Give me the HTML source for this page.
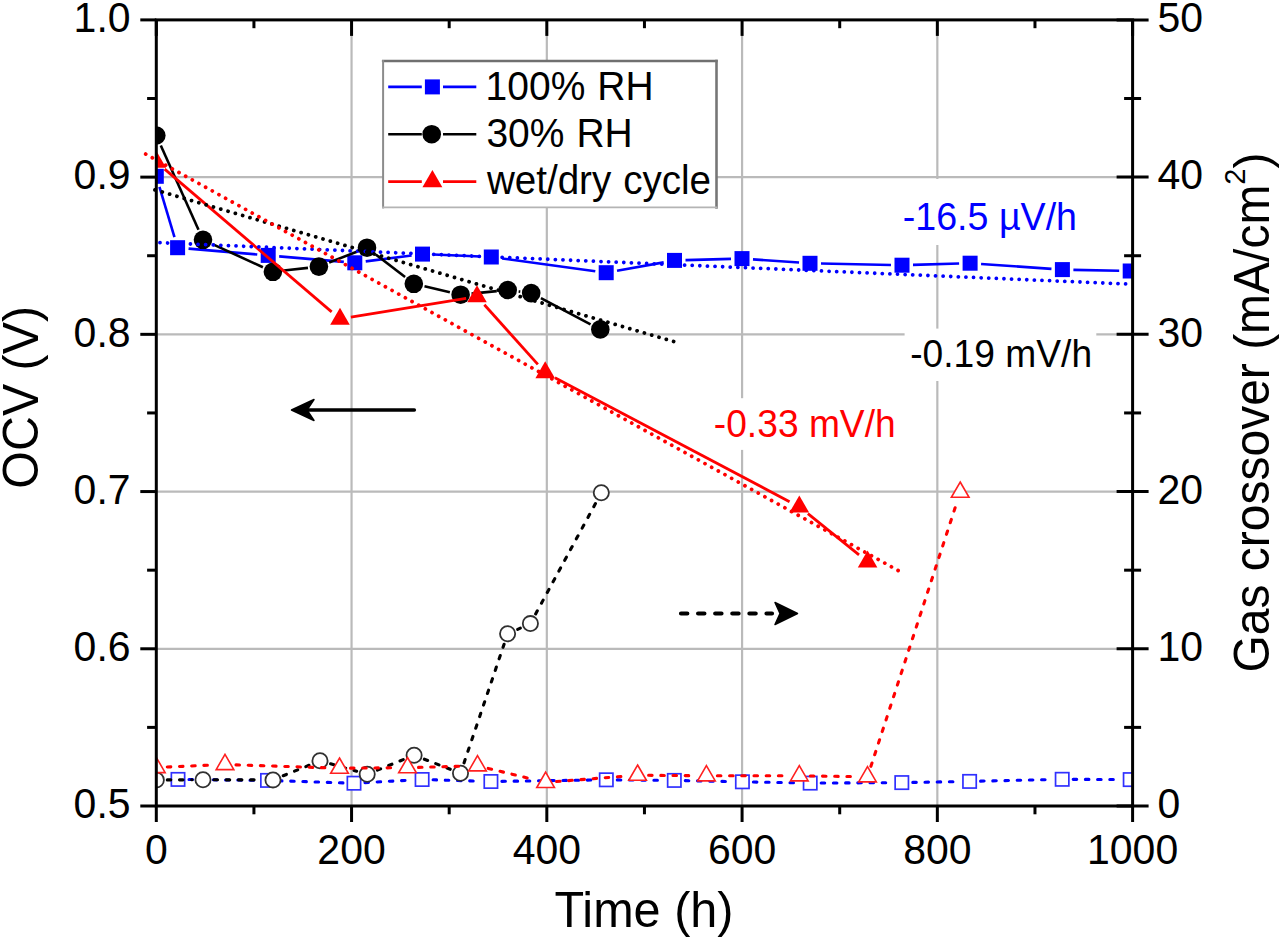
<!DOCTYPE html>
<html><head><meta charset="utf-8"><title>OCV and gas crossover</title>
<style>
html,body{margin:0;padding:0;background:#ffffff;}
body{width:1280px;height:938px;overflow:hidden;}
svg{display:block;font-family:"Liberation Sans",sans-serif;}
</style></head><body>
<svg width="1280" height="938" viewBox="0 0 1280 938">
<rect x="0" y="0" width="1280" height="938" fill="#ffffff"/>
<defs><clipPath id="pc"><rect x="156.3" y="19.9" width="976.3" height="786.1"/></clipPath></defs>
<g stroke="#bababa" stroke-width="2.2"><line x1="351.56" y1="19.9" x2="351.56" y2="806"/><line x1="546.82" y1="19.9" x2="546.82" y2="806"/><line x1="742.08" y1="19.9" x2="742.08" y2="806"/><line x1="937.34" y1="19.9" x2="937.34" y2="806"/><line x1="156.3" y1="648.78" x2="1132.6" y2="648.78"/><line x1="156.3" y1="491.56" x2="1132.6" y2="491.56"/><line x1="156.3" y1="334.34" x2="1132.6" y2="334.34"/><line x1="156.3" y1="177.12" x2="1132.6" y2="177.12"/></g>
<g clip-path="url(#pc)">
<g stroke="#0000ff" stroke-width="2.6" fill="none" stroke-linecap="butt"><line x1="159.44" y1="186.84" x2="174.46" y2="237.16"/><line x1="188.56" y1="248.63" x2="257.24" y2="254.47"/><line x1="279.16" y1="256.34" x2="343.84" y2="261.86"/><line x1="365.71" y1="261.4" x2="411.59" y2="255.5"/><line x1="433.49" y1="254.56" x2="480.31" y2="256.54"/><line x1="502.2" y1="258.49" x2="595.3" y2="271.21"/><line x1="617.03" y1="270.75" x2="663.67" y2="262.35"/><line x1="685.5" y1="260.11" x2="731" y2="258.89"/><line x1="752.97" y1="259.36" x2="799.03" y2="262.54"/><line x1="821" y1="263.53" x2="891" y2="264.97"/><line x1="913" y1="264.88" x2="959.1" y2="263.52"/><line x1="981.07" y1="263.96" x2="1051.43" y2="268.84"/><line x1="1073.4" y1="269.83" x2="1119.2" y2="270.77"/></g>
<g stroke="#0000ff" stroke-width="3.1" fill="none" stroke-linecap="round" stroke-dasharray="3.5 8.7"><line x1="189" y1="779.52" x2="256.5" y2="780.28"/><line x1="278.49" y1="780.76" x2="343.01" y2="782.84"/><line x1="364.98" y1="782.6" x2="411.12" y2="780.1"/><line x1="433.1" y1="779.82" x2="479.9" y2="781.18"/><line x1="501.9" y1="781.34" x2="595.3" y2="779.96"/><line x1="617.3" y1="779.9" x2="663.3" y2="780.3"/><line x1="685.3" y1="780.63" x2="731.4" y2="781.57"/><line x1="753.4" y1="782.01" x2="799.2" y2="782.89"/><line x1="821.2" y1="783.04" x2="890.8" y2="782.66"/><line x1="912.8" y1="782.41" x2="958.6" y2="781.59"/><line x1="980.6" y1="781.15" x2="1051.2" y2="779.55"/><line x1="1073.2" y1="779.35" x2="1119.2" y2="779.55"/></g>
<rect x="148.8" y="168.8" width="15" height="15" fill="#0000ff"/><rect x="170.1" y="240.2" width="15" height="15" fill="#0000ff"/><rect x="260.7" y="247.9" width="15" height="15" fill="#0000ff"/><rect x="347.3" y="255.3" width="15" height="15" fill="#0000ff"/><rect x="415" y="246.6" width="15" height="15" fill="#0000ff"/><rect x="483.8" y="249.5" width="15" height="15" fill="#0000ff"/><rect x="598.7" y="265.2" width="15" height="15" fill="#0000ff"/><rect x="667" y="252.9" width="15" height="15" fill="#0000ff"/><rect x="734.5" y="251.1" width="15" height="15" fill="#0000ff"/><rect x="802.5" y="255.8" width="15" height="15" fill="#0000ff"/><rect x="894.5" y="257.7" width="15" height="15" fill="#0000ff"/><rect x="962.6" y="255.7" width="15" height="15" fill="#0000ff"/><rect x="1054.9" y="262.1" width="15" height="15" fill="#0000ff"/><rect x="1122.7" y="263.5" width="15" height="15" fill="#0000ff"/>
<rect x="171.35" y="772.75" width="13.3" height="13.3" fill="#ffffff" stroke="#3030ff" stroke-width="1.7"/><rect x="260.85" y="773.75" width="13.3" height="13.3" fill="#ffffff" stroke="#3030ff" stroke-width="1.7"/><rect x="347.35" y="776.55" width="13.3" height="13.3" fill="#ffffff" stroke="#3030ff" stroke-width="1.7"/><rect x="415.45" y="772.85" width="13.3" height="13.3" fill="#ffffff" stroke="#3030ff" stroke-width="1.7"/><rect x="484.25" y="774.85" width="13.3" height="13.3" fill="#ffffff" stroke="#3030ff" stroke-width="1.7"/><rect x="599.65" y="773.15" width="13.3" height="13.3" fill="#ffffff" stroke="#3030ff" stroke-width="1.7"/><rect x="667.65" y="773.75" width="13.3" height="13.3" fill="#ffffff" stroke="#3030ff" stroke-width="1.7"/><rect x="735.75" y="775.15" width="13.3" height="13.3" fill="#ffffff" stroke="#3030ff" stroke-width="1.7"/><rect x="803.55" y="776.45" width="13.3" height="13.3" fill="#ffffff" stroke="#3030ff" stroke-width="1.7"/><rect x="895.15" y="775.95" width="13.3" height="13.3" fill="#ffffff" stroke="#3030ff" stroke-width="1.7"/><rect x="962.95" y="774.75" width="13.3" height="13.3" fill="#ffffff" stroke="#3030ff" stroke-width="1.7"/><rect x="1055.55" y="772.65" width="13.3" height="13.3" fill="#ffffff" stroke="#3030ff" stroke-width="1.7"/><rect x="1123.55" y="772.95" width="13.3" height="13.3" fill="#ffffff" stroke="#3030ff" stroke-width="1.7"/>
<g stroke="#000000" stroke-width="2.6" fill="none" stroke-linecap="butt"><line x1="160.8" y1="145.54" x2="198.5" y2="229.76"/><line x1="213" y1="244.38" x2="262.9" y2="267.22"/><line x1="283.83" y1="270.56" x2="307.97" y2="267.84"/><line x1="329.14" y1="262.58" x2="356.76" y2="251.72"/><line x1="375.71" y1="254.42" x2="405.09" y2="277.08"/><line x1="424.51" y1="286.3" x2="449.89" y2="292.2"/><line x1="471.55" y1="293.61" x2="496.75" y2="291.09"/><line x1="518.61" y1="291.44" x2="520.29" y2="291.66"/><line x1="540.94" y1="298.22" x2="590.56" y2="324.28"/></g>
<g stroke="#000000" stroke-width="3.1" fill="none" stroke-linecap="round" stroke-dasharray="3.5 8.7"><line x1="167.3" y1="779.88" x2="192" y2="779.82"/><line x1="214" y1="779.82" x2="262" y2="779.88"/><line x1="283.19" y1="775.76" x2="309.81" y2="764.94"/><line x1="330.58" y1="763.82" x2="356.62" y2="771.28"/><line x1="377.39" y1="770.15" x2="403.91" y2="759.35"/><line x1="424.35" y1="759.2" x2="450.25" y2="769.3"/><line x1="464.02" y1="762.88" x2="504.08" y2="644.22"/><line x1="517.64" y1="629.31" x2="520.36" y2="628.09"/><line x1="535.64" y1="613.93" x2="596.06" y2="502.47"/></g>
<circle cx="156.3" cy="135.5" r="9.3" fill="#000000"/><circle cx="203" cy="239.8" r="9.3" fill="#000000"/><circle cx="272.9" cy="271.8" r="9.3" fill="#000000"/><circle cx="318.9" cy="266.6" r="9.3" fill="#000000"/><circle cx="367" cy="247.7" r="9.3" fill="#000000"/><circle cx="413.8" cy="283.8" r="9.3" fill="#000000"/><circle cx="460.6" cy="294.7" r="9.3" fill="#000000"/><circle cx="507.7" cy="290" r="9.3" fill="#000000"/><circle cx="531.2" cy="293.1" r="9.3" fill="#000000"/><circle cx="600.3" cy="329.4" r="9.3" fill="#000000"/>
<circle cx="156.3" cy="779.9" r="7.6" fill="#ffffff" stroke="#303030" stroke-width="1.8"/><circle cx="203" cy="779.8" r="7.6" fill="#ffffff" stroke="#303030" stroke-width="1.8"/><circle cx="273" cy="779.9" r="7.6" fill="#ffffff" stroke="#303030" stroke-width="1.8"/><circle cx="320" cy="760.8" r="7.6" fill="#ffffff" stroke="#303030" stroke-width="1.8"/><circle cx="367.2" cy="774.3" r="7.6" fill="#ffffff" stroke="#303030" stroke-width="1.8"/><circle cx="414.1" cy="755.2" r="7.6" fill="#ffffff" stroke="#303030" stroke-width="1.8"/><circle cx="460.5" cy="773.3" r="7.6" fill="#ffffff" stroke="#303030" stroke-width="1.8"/><circle cx="507.6" cy="633.8" r="7.6" fill="#ffffff" stroke="#303030" stroke-width="1.8"/><circle cx="530.4" cy="623.6" r="7.6" fill="#ffffff" stroke="#303030" stroke-width="1.8"/><circle cx="601.3" cy="492.8" r="7.6" fill="#ffffff" stroke="#303030" stroke-width="1.8"/>
<g stroke="#ff0000" stroke-width="2.8000000000000003" fill="none" stroke-linecap="butt"><line x1="164.66" y1="169.15" x2="331.64" y2="311.85"/><line x1="350.86" y1="317.23" x2="466.14" y2="298.37"/><line x1="484.35" y1="304.78" x2="537.85" y2="364.32"/><line x1="554.93" y1="377.64" x2="789.57" y2="501.66"/><line x1="807.87" y1="513.7" x2="859.03" y2="554.9"/></g>
<g stroke="#ff0000" stroke-width="3.1" fill="none" stroke-linecap="round" stroke-dasharray="3.5 8.7"><line x1="167.29" y1="767.02" x2="214.01" y2="764.98"/><line x1="235.99" y1="764.86" x2="328.51" y2="767.84"/><line x1="350.5" y1="768.12" x2="396.5" y2="767.78"/><line x1="418.5" y1="767.4" x2="466.5" y2="766.1"/><line x1="488.19" y1="768.41" x2="534.91" y2="779.79"/><line x1="556.57" y1="781.54" x2="626.63" y2="776.06"/><line x1="648.6" y1="775.3" x2="695.4" y2="775.7"/><line x1="717.4" y1="775.8" x2="788.3" y2="775.8"/><line x1="810.3" y1="775.96" x2="856.5" y2="776.64"/><line x1="870.91" y1="766.34" x2="956.79" y2="502.66"/></g>
<polygon points="156.3,150.7 166.09,167.65 146.51,167.65" fill="#ff0000"/><polygon points="340,307.7 349.79,324.65 330.21,324.65" fill="#ff0000"/><polygon points="477,285.3 486.79,302.25 467.21,302.25" fill="#ff0000"/><polygon points="545.2,361.2 554.99,378.15 535.41,378.15" fill="#ff0000"/><polygon points="799.3,495.5 809.09,512.45 789.51,512.45" fill="#ff0000"/><polygon points="867.6,550.5 877.39,567.45 857.81,567.45" fill="#ff0000"/>
<polygon points="156.3,757.3 165.13,772.6 147.47,772.6" fill="#ffffff" stroke="#ff2020" stroke-width="1.6" stroke-linejoin="miter"/><polygon points="225,754.3 233.83,769.6 216.17,769.6" fill="#ffffff" stroke="#ff2020" stroke-width="1.6" stroke-linejoin="miter"/><polygon points="339.5,758 348.33,773.3 330.67,773.3" fill="#ffffff" stroke="#ff2020" stroke-width="1.6" stroke-linejoin="miter"/><polygon points="407.5,757.5 416.33,772.8 398.67,772.8" fill="#ffffff" stroke="#ff2020" stroke-width="1.6" stroke-linejoin="miter"/><polygon points="477.5,755.6 486.33,770.9 468.67,770.9" fill="#ffffff" stroke="#ff2020" stroke-width="1.6" stroke-linejoin="miter"/><polygon points="545.6,772.2 554.43,787.5 536.77,787.5" fill="#ffffff" stroke="#ff2020" stroke-width="1.6" stroke-linejoin="miter"/><polygon points="637.6,765 646.43,780.3 628.77,780.3" fill="#ffffff" stroke="#ff2020" stroke-width="1.6" stroke-linejoin="miter"/><polygon points="706.4,765.6 715.23,780.9 697.57,780.9" fill="#ffffff" stroke="#ff2020" stroke-width="1.6" stroke-linejoin="miter"/><polygon points="799.3,765.6 808.13,780.9 790.47,780.9" fill="#ffffff" stroke="#ff2020" stroke-width="1.6" stroke-linejoin="miter"/><polygon points="867.5,766.6 876.33,781.9 858.67,781.9" fill="#ffffff" stroke="#ff2020" stroke-width="1.6" stroke-linejoin="miter"/><polygon points="960.2,482 969.03,497.3 951.37,497.3" fill="#ffffff" stroke="#ff2020" stroke-width="1.6" stroke-linejoin="miter"/>
</g>
<g fill="none" stroke-width="3.8" stroke-linecap="round" stroke-dasharray="0.01 7.6">
<line x1="160" y1="242.7" x2="1131" y2="284.2" stroke="#0000ff"/>
<line x1="155" y1="189.9" x2="680.1" y2="343.4" stroke="#000000"/>
<line x1="145.7" y1="154.1" x2="900.1" y2="571.6" stroke="#ff0000"/>
</g>
<rect x="896" y="179" width="188" height="66" fill="#ffffff"/>
<rect x="904.6" y="328.6" width="191.7" height="52.4" fill="#ffffff"/>
<rect x="708" y="398.2" width="192" height="51.7" fill="#ffffff"/>
<text transform="translate(902.8,229.7) scale(0.9662,1)" font-size="38.92" fill="#0000ff">-16.5 µV/h</text>
<text transform="translate(910.2,367.3) scale(0.9662,1)" font-size="38.5" fill="#000000">-0.19 mV/h</text>
<text transform="translate(713.8,437.3) scale(0.9662,1)" font-size="38.5" fill="#ff0000">-0.33 mV/h</text>
<line x1="305" y1="410" x2="414.4" y2="410" stroke="#000" stroke-width="3.4" stroke-linecap="round"/>
<polygon points="291.5,410 314,399.5 307,410 314,420.5" fill="#000" stroke="#000" stroke-width="1.5" stroke-linejoin="round"/>
<line x1="681" y1="613.5" x2="772" y2="613.5" stroke="#000" stroke-width="4.2" stroke-linecap="round" stroke-dasharray="6.3 10.8"/>
<polygon points="797.5,613.5 775,602.5 780,613.5 775,624.5" fill="#000" stroke="#000" stroke-width="1.5" stroke-linejoin="round"/>
<rect x="383.1" y="61.0" width="333.4" height="146.4" fill="#ffffff"/>
<g fill="none" stroke-linecap="square">
<line x1="383.1" y1="61.0" x2="716.5" y2="61.0" stroke="#707070" stroke-width="2.4"/>
<line x1="716.5" y1="61.0" x2="716.5" y2="207.4" stroke="#767676" stroke-width="2.6"/>
<line x1="383.1" y1="61.0" x2="383.1" y2="207.4" stroke="#8c8c8c" stroke-width="2"/>
<line x1="383.1" y1="207.4" x2="716.5" y2="207.4" stroke="#b4b4b4" stroke-width="1.8"/>
</g>
<line x1="388.2" y1="86.9" x2="421.8" y2="86.9" stroke="#0000ff" stroke-width="2.6"/>
<line x1="443" y1="86.9" x2="476.3" y2="86.9" stroke="#0000ff" stroke-width="2.6"/>
<line x1="388.2" y1="134.2" x2="421.8" y2="134.2" stroke="#000000" stroke-width="2.6"/>
<line x1="443" y1="134.2" x2="476.3" y2="134.2" stroke="#000000" stroke-width="2.6"/>
<line x1="388.2" y1="181.6" x2="421.8" y2="181.6" stroke="#ff0000" stroke-width="2.6"/>
<line x1="443" y1="181.6" x2="476.3" y2="181.6" stroke="#ff0000" stroke-width="2.6"/>
<rect x="424.9" y="79.4" width="15" height="15" fill="#0000ff"/>
<circle cx="431.7" cy="134.2" r="9.3" fill="#000000"/>
<polygon points="432.4,170.1 442.36,187.35 422.44,187.35" fill="#ff0000"/>
<g font-size="39" fill="#000" word-spacing="1.2" font-family="Liberation Sans, sans-serif">
<text transform="translate(485.6,100.4) scale(0.9662,1)" font-size="40.36" fill="#000" word-spacing="1.2">100% RH</text>
<text transform="translate(486.4,147.2) scale(0.9662,1)" font-size="40.36" fill="#000" word-spacing="1.2">30% RH</text>
<text transform="translate(486.9,194.4) scale(0.9662,1)" font-size="39.95" fill="#000" word-spacing="1.2">wet/dry cycle</text>
</g>
<g stroke="#000" stroke-width="3.0" fill="none" stroke-linecap="square">
<rect x="156.3" y="19.9" width="976.3" height="786.1"/>
</g>
<g stroke="#000" stroke-width="3.0" stroke-linecap="butt"><line x1="140.3" y1="806" x2="156.3" y2="806"/><line x1="140.3" y1="648.78" x2="156.3" y2="648.78"/><line x1="140.3" y1="491.56" x2="156.3" y2="491.56"/><line x1="140.3" y1="334.34" x2="156.3" y2="334.34"/><line x1="140.3" y1="177.12" x2="156.3" y2="177.12"/><line x1="140.3" y1="19.9" x2="156.3" y2="19.9"/><line x1="147.1" y1="727.39" x2="156.3" y2="727.39"/><line x1="147.1" y1="570.17" x2="156.3" y2="570.17"/><line x1="147.1" y1="412.95" x2="156.3" y2="412.95"/><line x1="147.1" y1="255.73" x2="156.3" y2="255.73"/><line x1="147.1" y1="98.51" x2="156.3" y2="98.51"/><line x1="156.3" y1="806" x2="156.3" y2="822"/><line x1="156.3" y1="19.9" x2="156.3" y2="35.9"/><line x1="351.56" y1="806" x2="351.56" y2="822"/><line x1="351.56" y1="19.9" x2="351.56" y2="35.9"/><line x1="546.82" y1="806" x2="546.82" y2="822"/><line x1="546.82" y1="19.9" x2="546.82" y2="35.9"/><line x1="742.08" y1="806" x2="742.08" y2="822"/><line x1="742.08" y1="19.9" x2="742.08" y2="35.9"/><line x1="937.34" y1="806" x2="937.34" y2="822"/><line x1="937.34" y1="19.9" x2="937.34" y2="35.9"/><line x1="1132.6" y1="806" x2="1132.6" y2="822"/><line x1="1132.6" y1="19.9" x2="1132.6" y2="35.9"/><line x1="253.93" y1="806" x2="253.93" y2="814.3"/><line x1="253.93" y1="19.9" x2="253.93" y2="28.2"/><line x1="449.19" y1="806" x2="449.19" y2="814.3"/><line x1="449.19" y1="19.9" x2="449.19" y2="28.2"/><line x1="644.45" y1="806" x2="644.45" y2="814.3"/><line x1="644.45" y1="19.9" x2="644.45" y2="28.2"/><line x1="839.71" y1="806" x2="839.71" y2="814.3"/><line x1="839.71" y1="19.9" x2="839.71" y2="28.2"/><line x1="1034.97" y1="806" x2="1034.97" y2="814.3"/><line x1="1034.97" y1="19.9" x2="1034.97" y2="28.2"/><line x1="1116.6" y1="806" x2="1148.6" y2="806"/><line x1="1116.6" y1="648.78" x2="1148.6" y2="648.78"/><line x1="1116.6" y1="491.56" x2="1148.6" y2="491.56"/><line x1="1116.6" y1="334.34" x2="1148.6" y2="334.34"/><line x1="1116.6" y1="177.12" x2="1148.6" y2="177.12"/><line x1="1116.6" y1="19.9" x2="1148.6" y2="19.9"/><line x1="1124.1" y1="727.39" x2="1141.1" y2="727.39"/><line x1="1124.1" y1="570.17" x2="1141.1" y2="570.17"/><line x1="1124.1" y1="412.95" x2="1141.1" y2="412.95"/><line x1="1124.1" y1="255.73" x2="1141.1" y2="255.73"/><line x1="1124.1" y1="98.51" x2="1141.1" y2="98.51"/></g>
<g font-size="41" fill="#000" font-family="Liberation Sans, sans-serif">
<text transform="translate(130.6,818.2) scale(0.9662,1)" font-size="42.43" fill="#000" text-anchor="end">0.5</text>
<text transform="translate(130.6,660.98) scale(0.9662,1)" font-size="42.43" fill="#000" text-anchor="end">0.6</text>
<text transform="translate(130.6,503.76) scale(0.9662,1)" font-size="42.43" fill="#000" text-anchor="end">0.7</text>
<text transform="translate(130.6,346.54) scale(0.9662,1)" font-size="42.43" fill="#000" text-anchor="end">0.8</text>
<text transform="translate(130.6,189.32) scale(0.9662,1)" font-size="42.43" fill="#000" text-anchor="end">0.9</text>
<text transform="translate(130.6,32.1) scale(0.9662,1)" font-size="42.43" fill="#000" text-anchor="end">1.0</text>
<text transform="translate(156.3,864.2) scale(0.9662,1)" font-size="42.43" fill="#000" text-anchor="middle">0</text>
<text transform="translate(351.56,864.2) scale(0.9662,1)" font-size="42.43" fill="#000" text-anchor="middle">200</text>
<text transform="translate(546.82,864.2) scale(0.9662,1)" font-size="42.43" fill="#000" text-anchor="middle">400</text>
<text transform="translate(742.08,864.2) scale(0.9662,1)" font-size="42.43" fill="#000" text-anchor="middle">600</text>
<text transform="translate(937.34,864.2) scale(0.9662,1)" font-size="42.43" fill="#000" text-anchor="middle">800</text>
<text transform="translate(1132.6,864.2) scale(0.9662,1)" font-size="42.43" fill="#000" text-anchor="middle">1000</text>
<text transform="translate(1157.5,818.2) scale(0.9662,1)" font-size="42.43" fill="#000">0</text>
<text transform="translate(1157.5,660.98) scale(0.9662,1)" font-size="42.43" fill="#000">10</text>
<text transform="translate(1157.5,503.76) scale(0.9662,1)" font-size="42.43" fill="#000">20</text>
<text transform="translate(1157.5,346.54) scale(0.9662,1)" font-size="42.43" fill="#000">30</text>
<text transform="translate(1157.5,189.32) scale(0.9662,1)" font-size="42.43" fill="#000">40</text>
<text transform="translate(1157.5,32.1) scale(0.9662,1)" font-size="42.43" fill="#000">50</text>
</g>
<text transform="translate(644,927.1) scale(0.9662,1)" font-size="50.3" fill="#000" text-anchor="middle">Time (h)</text>
<text transform="translate(37.6,397.3) rotate(-90) scale(0.9662,1)" font-size="50.09" fill="#000" text-anchor="middle">OCV (V)</text>
<text transform="translate(1269,412.5) rotate(-90) scale(0.9662,1)" font-size="49.68" fill="#000" text-anchor="middle">Gas crossover (mA/cm<tspan font-size="30.01" dy="-24">2</tspan><tspan dy="24">)</tspan></text>
</svg>
</body></html>
